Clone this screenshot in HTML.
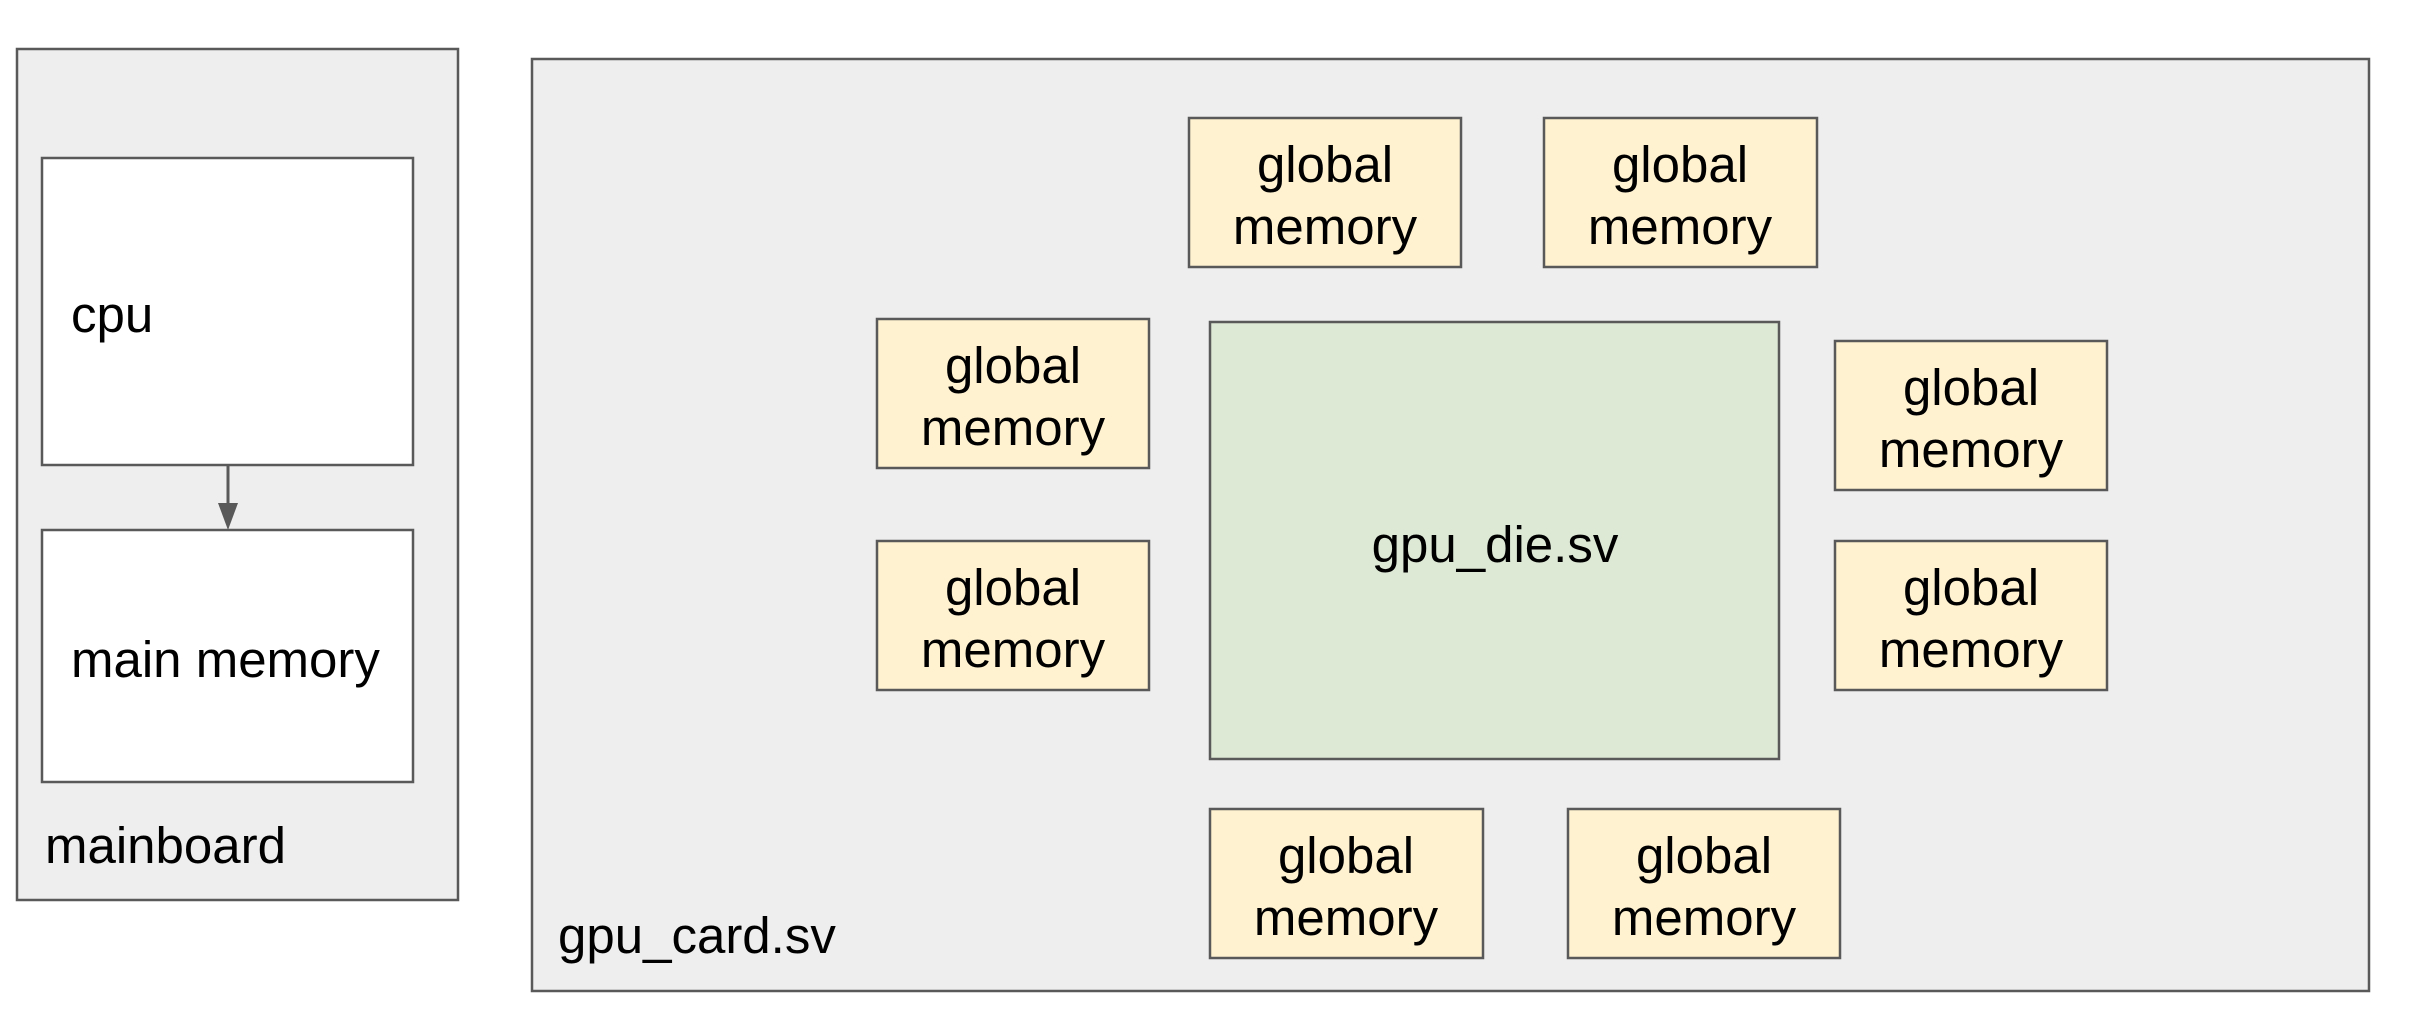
<!DOCTYPE html>
<html><head><meta charset="utf-8"><style>
html,body{margin:0;padding:0;background:#fff;}
svg{display:block;}
text{font-family:"Liberation Sans",Arial,sans-serif;font-size:51px;fill:#000;}
</style></head><body>
<svg width="2424" height="1036" viewBox="0 0 2424 1036" xmlns="http://www.w3.org/2000/svg">
<g stroke="#595959" stroke-width="2.5">
<rect x="17" y="49" width="441" height="851" fill="#eeeeee"/>
<rect x="42" y="158" width="371" height="307" fill="#ffffff"/>
<rect x="42" y="530" width="371" height="252" fill="#ffffff"/>
<rect x="532" y="59" width="1837" height="932" fill="#eeeeee"/>
<rect x="1210" y="322" width="569" height="437" fill="#dde8d5"/>
<g fill="#fff2d1">
<rect x="1189" y="118" width="272" height="149"/>
<rect x="1544" y="118" width="273" height="149"/>
<rect x="877" y="319" width="272" height="149"/>
<rect x="877" y="541" width="272" height="149"/>
<rect x="1835" y="341" width="272" height="149"/>
<rect x="1835" y="541" width="272" height="149"/>
<rect x="1210" y="809" width="273" height="149"/>
<rect x="1568" y="809" width="272" height="149"/>
</g>
<line x1="228" y1="465" x2="228" y2="505" stroke-width="3"/>
</g>
<polygon points="218,503 238,503 228,530" fill="#595959"/>
<text x="71" y="332">cpu</text>
<text x="71" y="677">main memory</text>
<text x="45" y="863">mainboard</text>
<text x="558" y="953">gpu_card.sv</text>
<text x="1495" y="562" text-anchor="middle">gpu_die.sv</text>
<g text-anchor="middle">
<text x="1325" y="182">global</text><text x="1325" y="244">memory</text>
<text x="1680" y="182">global</text><text x="1680" y="244">memory</text>
<text x="1013" y="383">global</text><text x="1013" y="445">memory</text>
<text x="1013" y="605">global</text><text x="1013" y="667">memory</text>
<text x="1971" y="405">global</text><text x="1971" y="467">memory</text>
<text x="1971" y="605">global</text><text x="1971" y="667">memory</text>
<text x="1346" y="873">global</text><text x="1346" y="935">memory</text>
<text x="1704" y="873">global</text><text x="1704" y="935">memory</text>
</g>
</svg>
</body></html>
